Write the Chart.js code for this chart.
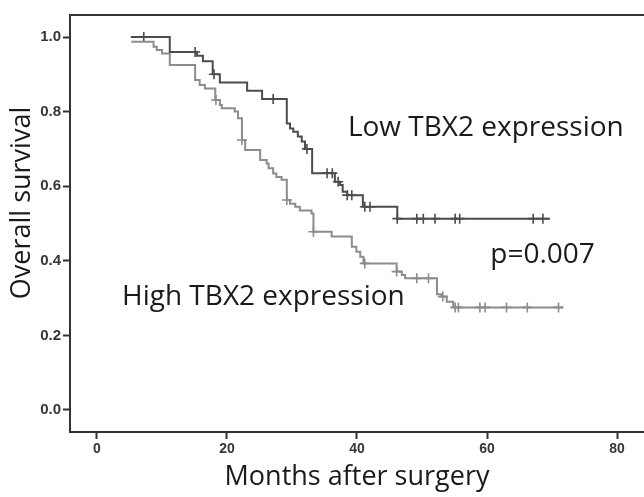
<!DOCTYPE html>
<html>
<head>
<meta charset="utf-8">
<script src="https://cdn.jsdelivr.net/npm/chart.js@4.4.1/dist/chart.umd.min.js"></script>
<style>
  html, body { margin: 0; padding: 0; background: #fff; }
  #wrap { width: 644px; height: 497px; position: relative; }
</style>
</head>
<body>
<div id="wrap"><canvas id="kmChart"></canvas></div>
<script>
//////////// Low TBX2 expression: step points (month, survival after drop) ////////////
const lowMonths   = [5.2, 11.2, 15.4, 16.3, 17.8, 18.9, 23.1, 25.4, 29.2, 29.7, 30.2, 30.9, 31.5, 32.0, 33.1, 36.6, 37.4, 37.8, 38.5, 40.9, 46.2, 69.7];
const lowSurvival = [1.0, 0.96, 0.95, 0.935, 0.90, 0.878, 0.856, 0.834, 0.768, 0.755, 0.746, 0.733, 0.72, 0.70, 0.635, 0.612, 0.603, 0.585, 0.576, 0.545, 0.513, 0.513];
const lowCensorMonths   = [7.2, 15.1, 18.0, 27.1, 32.3, 35.4, 36.2, 37.1, 38.5, 39.2, 41.2, 42.0, 46.2, 49.2, 50.2, 52.0, 55.1, 55.8, 67.1, 68.6];
const lowCensorSurvival = [1.0, 0.96, 0.90, 0.834, 0.70, 0.635, 0.635, 0.612, 0.576, 0.576, 0.545, 0.545, 0.513, 0.513, 0.513, 0.513, 0.513, 0.513, 0.513, 0.513];

//////////// High TBX2 expression ////////////
const highMonths   = [5.3, 8.7, 9.2, 10.0, 11.2, 15.1, 15.8, 16.6, 18.2, 18.9, 19.2, 21.2, 21.7, 22.3, 22.8, 25.1, 26.1, 26.4, 27.1, 27.6, 28.4, 29.2, 29.7, 30.5, 31.2, 33.0, 33.3, 36.1, 39.2, 39.9, 40.5, 41.0, 46.1, 46.9, 47.4, 52.3, 53.0, 53.8, 54.8, 71.7];
const highSurvival = [0.987, 0.974, 0.965, 0.956, 0.925, 0.885, 0.871, 0.862, 0.831, 0.818, 0.809, 0.80, 0.782, 0.724, 0.697, 0.67, 0.661, 0.648, 0.634, 0.625, 0.617, 0.563, 0.553, 0.545, 0.535, 0.527, 0.478, 0.465, 0.438, 0.424, 0.411, 0.393, 0.371, 0.362, 0.353, 0.31, 0.304, 0.29, 0.275, 0.275];
const highCensorMonths   = [18.3, 22.3, 29.2, 33.3, 41.2, 46.1, 49.2, 51.0, 53.2, 55.1, 55.6, 58.9, 59.7, 63.0, 66.2, 71.0];
const highCensorSurvival = [0.831, 0.724, 0.563, 0.478, 0.393, 0.371, 0.353, 0.353, 0.304, 0.275, 0.275, 0.275, 0.275, 0.275, 0.275, 0.275];

//////////// Axis ticks ////////////
const xTicks = [0, 20, 40, 60, 80];
const yTicks = [0.0, 0.2, 0.4, 0.6, 0.8, 1.0];

//////////// Annotations (text, month, survival) ////////////
const noteTexts    = ['Low TBX2 expression', 'High TBX2 expression', 'p=0.007'];
const noteMonths   = [38.6, 3.85, 60.5];
const noteSurvival = [0.757, 0.303, 0.416];

const toPoints = (xs, ys) => xs.map((v, i) => ({ x: v, y: ys[i] }));

const DARK = '#4c4c4c';
const LIGHT = '#8c8c8c';
const AXIS = '#333333';
const TEXT_FONT = '"Open Sans", "Noto Sans", sans-serif';

///////// Top frame line, y title and the text notes /////////
const chartText = {
  id: 'chartText',
  afterDraw(chart) {
    const { ctx, chartArea: { left, right, top }, scales: { x, y } } = chart;
    ctx.save();
    ctx.beginPath();
    ctx.lineWidth = 2;
    ctx.strokeStyle = AXIS;
    ctx.moveTo(left - 1, top);
    ctx.lineTo(right, top);
    ctx.stroke();

    ctx.fillStyle = '#1a1a1a';
    ctx.textBaseline = 'middle';
    ctx.textAlign = 'left';
    ctx.font = '28px ' + TEXT_FONT;
    noteTexts.forEach((t, i) => {
      ctx.fillText(t, x.getPixelForValue(noteMonths[i]), y.getPixelForValue(noteSurvival[i]));
    });

    // y axis title
    ctx.font = '27px ' + TEXT_FONT;
    ctx.translate(22, 203);
    ctx.rotate(-Math.PI / 2);
    ctx.textAlign = 'center';
    ctx.fillText('Overall survival', 0, 0);
    ctx.restore();
  }
};

const config = {
  type: 'scatter',
  data: {
    datasets: [{
      type: 'line',
      label: 'Low TBX2 expression',
      data: toPoints(lowMonths, lowSurvival),
      stepped: 'before',
      borderColor: DARK,
      borderWidth: 2,
      pointRadius: 0,
      fill: false
    }, {
      type: 'line',
      label: 'High TBX2 expression',
      data: toPoints(highMonths, highSurvival),
      stepped: 'before',
      borderColor: LIGHT,
      borderWidth: 2,
      pointRadius: 0,
      fill: false
    }, {
      label: 'Low censored',
      data: toPoints(lowCensorMonths, lowCensorSurvival),
      pointStyle: 'cross',
      pointRadius: 5,
      borderColor: DARK,
      borderWidth: 1.6
    }, {
      label: 'High censored',
      data: toPoints(highCensorMonths, highCensorSurvival),
      pointStyle: 'cross',
      pointRadius: 5,
      borderColor: LIGHT,
      borderWidth: 1.6
    }]
  },
  options: {
    responsive: true,
    maintainAspectRatio: false,
    animation: false,
    layout: { autoPadding: false, padding: { top: 15, right: 0, left: 0, bottom: 0 } },
    plugins: { legend: { display: false }, tooltip: { enabled: false } },
    scales: {
      x: {
        type: 'linear',
        min: -4.15,
        max: 84.15,
        afterBuildTicks: (s) => { s.ticks = xTicks.map(v => ({ value: v })); },
        afterFit: (s) => { s.height = 65; s.paddingLeft = 0; s.paddingRight = 0; },
        border: { display: true, color: AXIS, width: 2 },
        grid: { drawOnChartArea: false, drawTicks: true, tickLength: 7, tickWidth: 2, tickColor: AXIS },
        ticks: {
          padding: 2,
          color: '#363636',
          font: { family: '"Liberation Sans", Arial, sans-serif', size: 14, weight: 'bold' },
          callback: (v) => v
        },
        title: {
          display: true,
          text: 'Months after surgery',
          color: '#1a1a1a',
          padding: { top: 0, bottom: 3 },
          font: { family: TEXT_FONT, size: 27, lineHeight: 1.2 }
        }
      },
      y: {
        min: -0.059,
        max: 1.059,
        afterBuildTicks: (s) => { s.ticks = yTicks.map(v => ({ value: v })); },
        afterFit: (s) => { s.width = 70; s.paddingTop = 0; s.paddingBottom = 0; },
        border: { display: true, color: AXIS, width: 2 },
        grid: { drawOnChartArea: false, drawTicks: true, tickLength: 7, tickWidth: 2, tickColor: AXIS },
        ticks: {
          padding: 2,
          color: '#363636',
          font: { family: '"Liberation Sans", Arial, sans-serif', size: 15, weight: 'bold' },
          callback: (v) => v.toFixed(1)
        }
      }
    }
  },
  plugins: [chartText]
};

const kmChart = new Chart(document.getElementById('kmChart').getContext('2d'), config);
</script>
</body>
</html>
